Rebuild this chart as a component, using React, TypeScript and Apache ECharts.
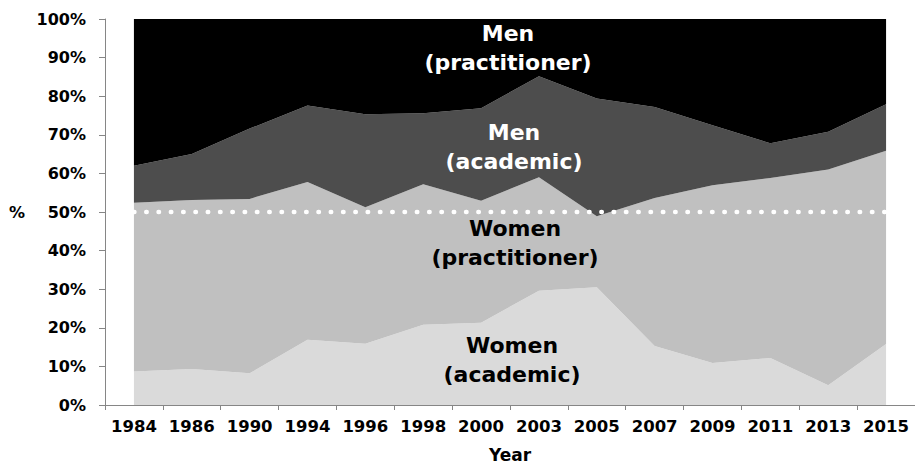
import React, { useEffect, useRef } from "react";
import * as echarts from "echarts";

const years = ["1984", "1986", "1990", "1994", "1996", "1998", "2000", "2003", "2005", "2007", "2009", "2011", "2013", "2015"];
const womenAcademic = [8.7, 9.3, 8.2, 16.9, 15.9, 20.8, 21.3, 29.6, 30.5, 15.3, 10.9, 12.2, 5.1, 15.8];
const womenPractitioner = [43.7, 43.8, 45.2, 40.9, 35.3, 36.4, 31.6, 29.4, 18.4, 38.3, 46.0, 46.6, 55.9, 50.1];
const menAcademic = [9.6, 11.9, 18.2, 19.8, 24.1, 18.4, 24.0, 26.2, 30.5, 23.6, 15.6, 9.0, 9.8, 12.0];
const menPractitioner = [38.0, 35.0, 28.4, 22.4, 24.7, 24.4, 23.1, 14.8, 20.6, 22.8, 27.5, 32.2, 29.2, 22.1];
const parityLine = [50, 50, 50, 50, 50, 50, 50, 50, 50, 50, 50, 50, 50, 50];

const areaLabels = [
  { text: "Men\n(practitioner)", x: 508, y: 48, color: "#ffffff" },
  { text: "Men\n(academic)", x: 514, y: 147, color: "#ffffff" },
  { text: "Women\n(practitioner)", x: 515, y: 243, color: "#000000" },
  { text: "Women\n(academic)", x: 512, y: 360, color: "#000000" },
];

const FONT = "DejaVu Sans";

export default function App() {
  const ref = useRef<HTMLDivElement>(null);
  useEffect(() => {
    if (!ref.current) return;
    const chart = echarts.init(ref.current, null, { renderer: "svg" });
    const areaSeries = (name: string, data: number[], color: string) => ({
      name,
      type: "line",
      stack: "total",
      data,
      symbol: "none",
      lineStyle: { width: 0 },
      areaStyle: { color, opacity: 1 },
      itemStyle: { color },
    });
    chart.setOption({
      animation: false,
      grid: { left: 105, top: 19, right: -3, bottom: 60, containLabel: false },
      xAxis: {
        type: "category",
        data: years,
        boundaryGap: true,
        name: "Year",
        nameLocation: "middle",
        nameGap: 41,
        nameTextStyle: { fontFamily: FONT, fontWeight: "bold", fontSize: 17, color: "#000" },
        axisLine: { show: true, lineStyle: { color: "#868686", width: 1 } },
        axisTick: { show: true, interval: 0, length: 5, lineStyle: { color: "#868686" } },
        axisLabel: { interval: 0, margin: 13, fontFamily: FONT, fontWeight: "bold", fontSize: 16.5, color: "#000" },
        splitLine: { show: false },
      },
      yAxis: {
        type: "value",
        min: 0,
        max: 100,
        interval: 10,
        name: "%",
        nameLocation: "middle",
        nameRotate: 0,
        nameGap: 80,
        nameTextStyle: { fontFamily: FONT, fontWeight: "bold", fontSize: 16, color: "#000" },
        axisLine: { show: true, lineStyle: { color: "#868686", width: 1 } },
        axisTick: { show: true, length: 6, lineStyle: { color: "#868686" } },
        axisLabel: { margin: 19, formatter: "{value}%", fontFamily: FONT, fontWeight: "bold", fontSize: 16, color: "#000" },
        splitLine: { show: false },
      },
      series: [
        areaSeries("Women (academic)", womenAcademic, "#dadada"),
        areaSeries("Women (practitioner)", womenPractitioner, "#c0c0c0"),
        areaSeries("Men (academic)", menAcademic, "#4d4d4d"),
        areaSeries("Men (practitioner)", menPractitioner, "#000000"),
        {
          name: "50%",
          type: "line",
          data: parityLine,
          symbol: "none",
          z: 5,
          lineStyle: { color: "#ffffff", width: 4.5, type: [0.5, 11.8], cap: "round" },
        },
      ],
      graphic: areaLabels.map((l) => ({
        type: "text",
        x: l.x,
        y: l.y,
        z: 100,
        style: {
          text: l.text,
          fill: l.color,
          font: `bold 22px "${FONT}"`,
          fontFamily: FONT,
          fontWeight: "bold",
          fontSize: 22,
          lineHeight: 29,
          align: "center",
          verticalAlign: "middle",
        },
      })),
    });
    return () => chart.dispose();
  }, []);
  return <div ref={ref} style={{ position: "absolute", left: 0, top: 0, width: 915, height: 468 }} />;
}
